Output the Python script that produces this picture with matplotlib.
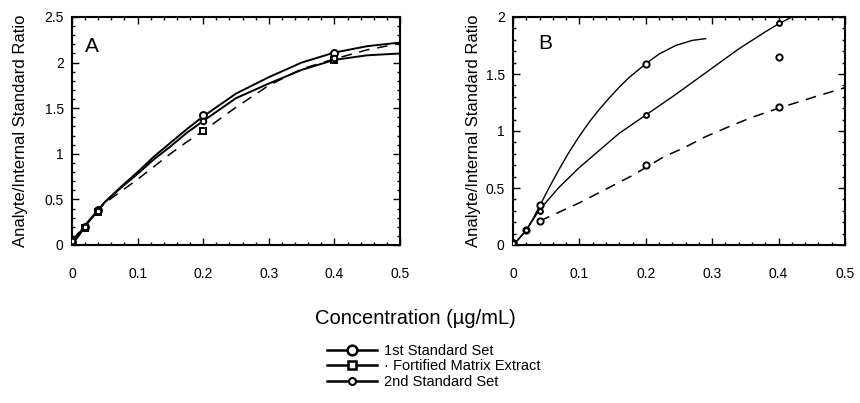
import matplotlib
matplotlib.use("Agg")
import matplotlib.pyplot as plt
from matplotlib.ticker import MultipleLocator, FuncFormatter
from matplotlib.lines import Line2D

plt.rcParams['font.family'] = ['Liberation Sans', 'DejaVu Sans']

# ---------------- Panel A data ----------------
a_pts_x = [0.0, 0.02, 0.04, 0.2, 0.4]
a_first_y = [0.03, 0.20, 0.38, 1.42, 2.11]
a_fort_y = [0.05, 0.19, 0.36, 1.25, 2.03]
a_second_y = [0.04, 0.20, 0.37, 1.36, 2.05]

a_curve_x = [0.0, 0.025, 0.05, 0.075, 0.1, 0.125, 0.15, 0.175, 0.2, 0.25, 0.3, 0.35, 0.4, 0.45, 0.5]
a_first_curve = [0.0, 0.25, 0.47, 0.64, 0.80, 0.97, 1.12, 1.27, 1.41, 1.66, 1.84, 2.00, 2.11, 2.18, 2.22]
a_second_curve = [0.03, 0.26, 0.47, 0.63, 0.78, 0.94, 1.08, 1.23, 1.36, 1.61, 1.77, 1.92, 2.03, 2.08, 2.10]
a_fort_curve = [0.05, 0.26, 0.46, 0.59, 0.72, 0.86, 1.00, 1.13, 1.25, 1.51, 1.75, 1.93, 2.04, 2.14, 2.21]

# ---------------- Panel B data ----------------
b_first_x = [0.0, 0.02, 0.04, 0.2, 0.4]
b_first_y = [0.02, 0.13, 0.35, 1.59, 1.65]
b_fort_x = [0.0, 0.04, 0.2, 0.4]
b_fort_y = [0.02, 0.21, 0.70, 1.21]
b_second_x = [0.0, 0.02, 0.04, 0.2, 0.4]
b_second_y = [0.02, 0.13, 0.30, 1.14, 1.95]

b_first_cx = [0.0, 0.01, 0.02, 0.03, 0.04, 0.055, 0.07, 0.085, 0.1, 0.115, 0.13,
              0.145, 0.16, 0.175, 0.2, 0.22, 0.245, 0.27, 0.29]
b_first_cy = [0.0, 0.06, 0.13, 0.23, 0.34, 0.51, 0.67, 0.82, 0.955, 1.08, 1.19,
              1.29, 1.385, 1.47, 1.59, 1.675, 1.75, 1.795, 1.81]
b_second_cx = [0.0, 0.02, 0.04, 0.07, 0.1, 0.13, 0.16, 0.2, 0.24, 0.29, 0.34, 0.38, 0.4, 0.42]
b_second_cy = [0.0, 0.13, 0.31, 0.51, 0.68, 0.83, 0.98, 1.14, 1.30, 1.51, 1.72, 1.87, 1.94, 2.0]
b_fort_cx = [0.04, 0.07, 0.1, 0.14, 0.18, 0.2, 0.226, 0.26, 0.29, 0.33, 0.36, 0.4, 0.46, 0.5]
b_fort_cy = [0.21, 0.29, 0.37, 0.49, 0.61, 0.68, 0.77, 0.86, 0.95, 1.05, 1.12, 1.20, 1.31, 1.38]

series_labels = ["1st Standard Set", "\u00b7 Fortified Matrix Extract", "2nd Standard Set"]
x_label = "Concentration (\u00b5g/mL)"
y_label = "Analyte/Internal Standard Ratio"

fig = plt.figure(figsize=(8.6, 4.03), dpi=100)
axA = fig.add_axes([72/860, 158/403, 328/860, 228/403])
axB = fig.add_axes([513/860, 158/403, 332/860, 228/403])

dash = (0, (7, 5))
mk = dict(mfc='white', mec='black', mew=1.4, ls='none', zorder=5)

# Panel A
axA.plot(a_curve_x, a_first_curve, color='black', lw=1.4)
axA.plot(a_curve_x, a_second_curve, color='black', lw=1.4)
axA.plot(a_curve_x, a_fort_curve, color='black', lw=1.1, ls=dash)
axA.plot(a_pts_x, a_first_y, marker='o', ms=5, **mk)
axA.plot(a_pts_x, a_fort_y, marker='s', ms=4.5, **mk)
axA.plot(a_pts_x, a_second_y, marker='o', ms=4, **mk)
axA.set_xlim(0, 0.5)
axA.set_ylim(0, 2.5)

# Panel B
axB.plot(b_first_cx, b_first_cy, color='black', lw=1.0)
axB.plot(b_second_cx, b_second_cy, color='black', lw=1.0)
axB.plot(b_fort_cx, b_fort_cy, color='black', lw=1.1, ls=dash)
axB.plot(b_first_x, b_first_y, marker='o', ms=4.5, **mk)
axB.plot(b_fort_x, b_fort_y, marker='o', ms=4.5, **mk)
axB.plot(b_second_x, b_second_y, marker='o', ms=3.5, **mk)
axB.set_xlim(0, 0.5)
axB.set_ylim(0, 2)

def fmt(v, pos):
    s = ('%.1f' % v)
    if s.endswith('.0'):
        s = s[:-2]
    return s

for ax, lp in ((axA, 12), (axB, 3)):
    ax.xaxis.set_major_locator(MultipleLocator(0.1))
    ax.xaxis.set_minor_locator(MultipleLocator(0.02))
    ax.yaxis.set_major_locator(MultipleLocator(0.5))
    ax.yaxis.set_minor_locator(MultipleLocator(0.1))
    ax.xaxis.set_major_formatter(FuncFormatter(fmt))
    ax.yaxis.set_major_formatter(FuncFormatter(fmt))
    ax.tick_params(which='both', direction='in', top=True, right=True, width=1.0)
    ax.tick_params(which='major', length=5)
    ax.tick_params(which='minor', length=2.5)
    ax.tick_params(axis='x', which='major', pad=16, labelsize=10)
    ax.tick_params(axis='y', which='major', pad=6, labelsize=10)
    for sp in ax.spines.values():
        sp.set_linewidth(1.5)
    ax.set_ylabel(y_label, fontsize=12, labelpad=lp)

axA.text(0.06, 0.87, 'A', transform=axA.transAxes, fontsize=15, ha='center', va='center')
axB.text(0.096, 0.885, 'B', transform=axB.transAxes, fontsize=15, ha='center', va='center')

fig.text(415/860, (403 - 318) / 403, x_label, fontsize=14.5, ha='center', va='center')

handles = [
    Line2D([], [], color='black', lw=1.8, marker='o', ms=7, mfc='white', mec='black', mew=1.8),
    Line2D([], [], color='black', lw=1.8, marker='s', ms=6, mfc='white', mec='black', mew=1.8),
    Line2D([], [], color='black', lw=1.8, marker='o', ms=5, mfc='white', mec='black', mew=1.5),
]
fig.legend(handles, series_labels, loc='upper left', bbox_to_anchor=(327/860, (403 - 344) / 403),
           frameon=False, fontsize=10.5, handlelength=3.4, labelspacing=0.1,
           handletextpad=0.5, borderpad=0, borderaxespad=0)

fig.savefig('out.png', dpi=100)
